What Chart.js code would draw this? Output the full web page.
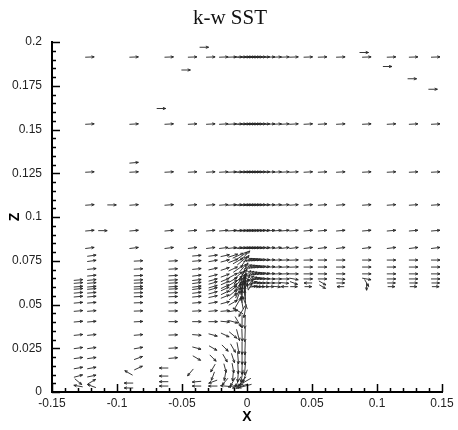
<!DOCTYPE html>
<html>
<head>
<meta charset="utf-8">
<script src="https://cdn.jsdelivr.net/npm/chart.js@4.4.1/dist/chart.umd.min.js"></script>
<style>
  body { margin: 0; background: #fff; }
  canvas { display: block; }
</style>
</head>
<body>
<canvas id="vecChart" width="458" height="430"></canvas>
<script>
// Velocity vectors, angle in degrees (0 = +X, 90 = +Z), s = relative magnitude

// Upper grid (above the obstacle corner)
const upperX = [-0.121, -0.087, -0.06, -0.042, -0.028, -0.018, -0.0115, -0.007, -0.004, -0.0015,
                0.0005, 0.0025, 0.0045, 0.0065, 0.0085, 0.011, 0.014, 0.018, 0.023, 0.029,
                0.036, 0.047, 0.058, 0.072, 0.092, 0.111, 0.128, 0.145];
const upperZ = [0.1914, 0.1531, 0.1257, 0.1069, 0.0922, 0.0823];
const upperAngle = [2, 3, 3, 4, 5, 7];

// Layer just above the block top (x > 0)
const rightX = [0.0005, 0.0025, 0.0045, 0.0065, 0.0085, 0.011, 0.014, 0.018, 0.023, 0.029,
                0.036, 0.047, 0.058, 0.072, 0.092, 0.111, 0.128, 0.145];
const rightZ = [0.0754, 0.0714, 0.0675, 0.0646, 0.0623, 0.0602];
const rightAngles = [
  [20, 18, 15, 12, 10, 8, 6, 5, 3, 2, 2, 1, 0, 0, 0, 0, 0, 0],
  [30, 25, 20, 15, 12, 10, 8, 6, 4, 3, 2, 0, 0, 0, 0, 0, 0, 0],
  [45, 35, 25, 18, 14, 10, 8, 5, 3, 2, 0, 0, 0, 0, 0, 0, 0, 0],
  [60, 40, 25, 15, 10, 5, 3, 0, 0, 0, -10, 0, 0, -5, -10, 0, 0, 0],
  [80, 45, 20, 5, 0, 0, 0, 0, 0, -5, -20, 180, -30, 0, -60, 0, 0, 0],
  [100, 60, 10, 0, 0, 0, 0, 0, -5, 180, 0, 0, -30, 180, -90, 0, 0, 0]
];
const rightSpeed = [1, 1, 1, 1, 0.9, 0.8];

// Region upstream of the block (x < 0, below the corner)
const leftX = [-0.1298, -0.1195, -0.0836, -0.0569, -0.0387, -0.0262, -0.0169, -0.0108, -0.0069, -0.0038, -0.0015];
const leftZ = [0.0779, 0.0749, 0.0703, 0.0665, 0.064, 0.0623, 0.0602, 0.0589, 0.0567, 0.0545,
               0.051, 0.0463, 0.0402, 0.0326, 0.0251, 0.0194, 0.0137, 0.0091, 0.0059, 0.0034];
const leftAngles = [
  [null, 8, null, null, 5, 8, 12, 18, 25, 35, 45],
  [null, 8, 3, 3, 5, 10, 15, 22, 30, 40, 55],
  [null, 6, 3, 3, 6, 12, 18, 25, 35, 50, 65],
  [null, 6, 3, 3, 7, 14, 20, 28, 40, 60, 75],
  [5, 6, 3, 3, 7, 15, 22, 30, 45, 65, 80],
  [5, 5, 3, 3, 8, 16, 24, 32, 50, 70, 85],
  [5, 5, 3, 3, 8, 16, 25, 35, 55, 75, 88],
  [5, 5, 3, 3, 8, 16, 25, 38, 60, 80, 90],
  [5, 5, 2, 2, 7, 15, 25, 40, 65, 85, 92],
  [5, 5, 2, 2, 6, 12, 22, 40, 70, 90, 95],
  [5, 5, 2, 2, 5, 10, 15, 30, 60, 100, 110],
  [5, 5, 2, 1, 3, 5, 5, 10, 150, -120, -100],
  [5, 5, 3, 0, 0, 0, -5, -15, -60, -90, -92],
  [6, 6, 5, 2, -5, -15, -25, -40, -75, -88, -92],
  [8, 8, 10, 3, -15, -30, -45, -60, -80, -90, -92],
  [8, 8, 20, 5, -30, -45, -60, -72, -85, -90, -92],
  [10, 10, 25, null, null, -120, -75, -80, -88, -92, -95],
  [15, 12, null, null, null, -110, -100, -95, -95, -100, -110],
  [-40, 30, null, null, 185, -160, -130, -120, -120, -130, -150],
  [170, 160, null, null, 180, 180, 175, -170, -160, -160, -165]
];
const leftSpeed = [1, 1, 1, 1, 1, 1, 1, 1.1, 1.3, 1.4, 1.5];

// Isolated vectors [x, z, angle]
const extraVectors = [
  [-0.033, 0.197, 0], [-0.047, 0.184, 0], [-0.066, 0.162, 0],
  [0.09, 0.194, 0], [0.108, 0.186, 0], [0.127, 0.179, 0], [0.143, 0.173, 0],
  [-0.087, 0.131, 5], [-0.104, 0.1069, 0], [-0.111, 0.0922, 0],
  [-0.091, 0.0109, 150], [-0.091, 0.0051, 180], [-0.091, 0.0023, 180],
  [-0.064, 0.0137, 180], [-0.064, 0.0091, 180], [-0.064, 0.0059, 180], [-0.064, 0.0034, 180],
  [-0.0435, 0.0112, -130]
];

// build points
const upperPts = [];
upperZ.forEach((z, r) => {
  upperX.forEach(x => upperPts.push({ x: x, y: z, a: upperAngle[r], s: 1 }));
});
const rightPts = [];
rightZ.forEach((z, r) => {
  rightX.forEach((x, c) => rightPts.push({ x: x, y: z, a: rightAngles[r][c], s: rightSpeed[r] }));
});
const leftPts = [];
leftZ.forEach((z, r) => {
  leftX.forEach((x, c) => {
    const a = leftAngles[r][c];
    if (a !== null) leftPts.push({ x: x, y: z, a: a, s: leftSpeed[c] });
  });
});
const extraPts = extraVectors.map(v => ({ x: v[0], y: v[1], a: v[2], s: 1 }));

const arrowPlugin = {
  id: 'arrows',
  afterDatasetsDraw(chart) {
    const ctx = chart.ctx;
    ctx.save();
    ctx.strokeStyle = '#222';
    ctx.lineWidth = 0.9;
    chart.data.datasets.forEach((ds, di) => {
      const meta = chart.getDatasetMeta(di);
      meta.data.forEach((el, i) => {
        const p = ds.data[i];
        const ang = p.a * Math.PI / 180;
        const len = 9 * p.s;
        const dx = Math.cos(ang), dy = -Math.sin(ang);
        const x0 = el.x - dx * len / 2, y0 = el.y - dy * len / 2;
        const x1 = el.x + dx * len / 2, y1 = el.y + dy * len / 2;
        const h = 3;
        ctx.beginPath();
        ctx.moveTo(x0, y0);
        ctx.lineTo(x1, y1);
        const back = Math.atan2(-dy, -dx);
        ctx.moveTo(x1 + h * Math.cos(back + 0.4), y1 + h * Math.sin(back + 0.4));
        ctx.lineTo(x1, y1);
        ctx.lineTo(x1 + h * Math.cos(back - 0.4), y1 + h * Math.sin(back - 0.4));
        ctx.stroke();
      });
    });
    ctx.restore();
  }
};

const axisPlugin = {
  id: 'axisTicks',
  afterDraw(chart) {
    const ctx = chart.ctx;
    const xs = chart.scales.x, ys = chart.scales.y;
    const area = chart.chartArea;
    ctx.save();
    ctx.strokeStyle = '#000';
    ctx.lineWidth = 1.5;
    ctx.beginPath();
    for (let i = -15; i <= 15; i++) {
      const px = Math.round(xs.getPixelForValue(i / 100)) + 0.5;
      const len = i % 5 === 0 ? 8 : 4;
      ctx.moveTo(px, area.bottom);
      ctx.lineTo(px, area.bottom - len);
    }
    for (let j = 0; j <= 40; j++) {
      const py = Math.round(ys.getPixelForValue(j * 0.005)) + 0.5;
      const len = j % 5 === 0 ? 8 : 4;
      ctx.moveTo(area.left, py);
      ctx.lineTo(area.left + len, py);
    }
    ctx.stroke();
    // chart title
    ctx.fillStyle = '#111';
    ctx.textAlign = 'center';
    ctx.textBaseline = 'middle';
    ctx.font = '21px "Liberation Serif", "Times New Roman", serif';
    ctx.fillText('k-w SST', 230, 18);
    // Z axis title
    ctx.fillStyle = '#000';
    ctx.font = 'bold 14px "Liberation Sans", Arial, sans-serif';
    ctx.translate(15, 217);
    ctx.rotate(-Math.PI / 2);
    ctx.fillText('Z', 0, 0);
    ctx.restore();
  }
};

const fmt = v => String(+Number(v).toFixed(3));

new Chart(document.getElementById('vecChart').getContext('2d'), {
  type: 'scatter',
  data: {
    datasets: [
      { label: 'upper', data: upperPts, pointRadius: 0 },
      { label: 'right', data: rightPts, pointRadius: 0 },
      { label: 'left', data: leftPts, pointRadius: 0 },
      { label: 'extra', data: extraPts, pointRadius: 0 }
    ]
  },
  options: {
    responsive: false,
    animation: false,
    layout: { padding: { left: 0, right: 16, top: 42, bottom: 0 } },
    plugins: {
      legend: { display: false },
      tooltip: { enabled: false },
      title: { display: false }
    },
    scales: {
      x: {
        type: 'linear',
        min: -0.15,
        max: 0.15,
        afterFit: s => { s.height = 38; },
        ticks: {
          stepSize: 0.05,
          callback: fmt,
          color: '#222',
          padding: 4,
          maxRotation: 0,
          font: { family: '"Liberation Sans", Arial, sans-serif', size: 12 }
        },
        grid: { display: false, drawTicks: false },
        border: { display: true, color: '#000', width: 2 },
        title: {
          display: true,
          text: 'X',
          color: '#000',
          font: { family: '"Liberation Sans", Arial, sans-serif', size: 14, weight: 'bold' },
          padding: { top: 0, bottom: 4 }
        }
      },
      y: {
        type: 'linear',
        min: 0,
        max: 0.2,
        afterFit: s => { s.width = 52; },
        ticks: {
          stepSize: 0.025,
          callback: fmt,
          color: '#222',
          padding: 10,
          font: { family: '"Liberation Sans", Arial, sans-serif', size: 12 }
        },
        grid: { display: false, drawTicks: false },
        border: { display: true, color: '#000', width: 2 }
      }
    }
  },
  plugins: [arrowPlugin, axisPlugin]
});
</script>
</body>
</html>
